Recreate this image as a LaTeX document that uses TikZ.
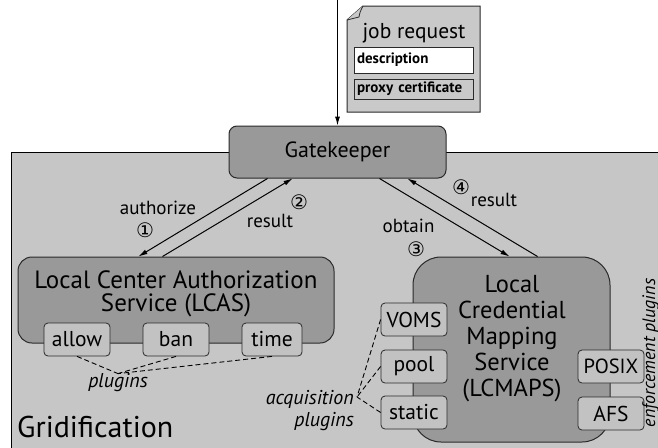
\documentclass[tikz,border=0pt]{standalone}
\usepackage{fontspec}
\setmainfont{PT Sans}
\newfontfamily\symfont{DejaVu Sans}
\usetikzlibrary{arrows.meta,calc}
\definecolor{bgregion}{HTML}{C6C6C6}
\definecolor{bigfill}{HTML}{999999}
\definecolor{plugfill}{HTML}{C2C2C2}
\definecolor{docfill}{HTML}{C9C9C9}
\definecolor{edge}{HTML}{2A2A2A}
\begin{document}
\begin{tikzpicture}[x=1pt,y=-1pt,
  bigbox/.style={draw=edge, line width=1pt, fill=bigfill, inner sep=0pt},
  plugbox/.style={draw=edge, line width=0.8pt, fill=plugfill, rounded corners=4pt, minimum height=33pt, inner sep=0pt, font=\fontsize{21.5}{24}\selectfont},
  lbl/.style={inner sep=0pt, font=\fontsize{19}{22}\selectfont},
  num/.style={inner sep=0pt, font=\symfont\fontsize{20}{22}\selectfont},
  ital/.style={inner sep=0pt, font=\itshape\fontsize{20}{23}\selectfont},
  arr/.style={-{Latex[length=9pt,width=5pt]}, line width=1pt},
  dsh/.style={dash pattern=on 5pt off 3pt, line width=0.9pt}
]
\clip (0,0) rectangle (658,447);
\fill[white] (0,0) rectangle (658,447);

% gridification region
\draw[fill=bgregion, line width=0.9pt] (11,460) -- (11,152) -- (670,152) -- (670,460);
\node[inner sep=0pt, anchor=base west, font=\fontsize{30}{34}\selectfont] (grid) at (17,437) {Gridification};

% job request document
\draw[fill=docfill, draw=edge, line width=1pt] (363,6) -- (480,6) -- (480,112) -- (347,112) -- (347,20) -- cycle;
\draw[fill=docfill, draw=edge, line width=0.8pt] (363,6) .. controls (360,12) .. (359,17) -- (347,20);
\node[inner sep=0pt, font=\fontsize{21.5}{24}\selectfont] (jobreq) at (414,33) {job request};
\node[draw=edge, line width=0.8pt, fill=white, text width=113pt, align=left, minimum height=26pt, inner xsep=3pt, inner ysep=0pt, font=\bfseries\fontsize{15}{17}\selectfont] (desc) at (413.5,60) {description};
\node[draw=edge, line width=0.8pt, fill=docfill, text width=113pt, align=left, minimum height=20pt, inner xsep=3pt, inner ysep=0pt, font=\bfseries\fontsize{15}{17}\selectfont] (proxy) at (413.5,89) {proxy certificate};

% main boxes
\node[bigbox, rounded corners=8pt, minimum width=217pt, minimum height=52pt, font=\fontsize{22}{26}\selectfont] (gk) at (337.5,152) {Gatekeeper};
\node[bigbox, rounded corners=14pt, minimum width=316pt, minimum height=86pt] (lcas) at (176,300) {};
\node[inner sep=0pt, align=center, font=\fontsize{25}{23}\selectfont] (lcastext) at (176,294) {Local Center Authorization\\Service (LCAS)};
\node[bigbox, rounded corners=28pt, minimum width=197pt, minimum height=185pt] (lcmaps) at (511.5,349.5) {};
\node[inner sep=0pt, align=center, font=\fontsize{24.5}{26}\selectfont] (lcmapstext) at (512,339) {Local\\Credential\\Mapping\\Service\\(LCMAPS)};

% plugin boxes
\node[plugbox, minimum width=66pt] (allow) at (77,339.5) {allow};
\node[plugbox, minimum width=66pt] (ban) at (176,339.5) {ban};
\node[plugbox, minimum width=60pt] (time) at (272,339.5) {time};
\node[plugbox, minimum width=66pt] (voms) at (414,319.5) {VOMS};
\node[plugbox, minimum width=66pt] (pool) at (414,366.5) {pool};
\node[plugbox, minimum width=66pt] (static) at (414,412.5) {static};
\node[plugbox, minimum width=66pt, font=\fontsize{20.5}{24}\selectfont] (posix) at (611,366.5) {POSIX};
\node[plugbox, minimum width=66pt] (afs) at (611,413.5) {AFS};

% plugin labels
\node[ital] (plugins) at (118,383) {plugins};
\node[ital, align=right, anchor=east, font=\itshape\fontsize{20}{22}\selectfont] (acq) at (354,411) {acquisition\\plugins};
\node[ital, rotate=90, anchor=base, font=\itshape\fontsize{18}{20}\selectfont] (enf) at (655,353) {enforcement plugins};
\coordinate (acqpt) at (357,397);

\draw[dsh] (allow.south) -- (plugins.north);
\draw[dsh] (ban.south) -- (plugins.north);
\draw[dsh] (time.south) -- (plugins.north);
\draw[dsh] (voms.west) -- (acqpt);
\draw[dsh] (pool.west) -- (acqpt);
\draw[dsh] (static.west) -- (acqpt);

% arrows
\coordinate (topin) at (337.5,0);
\draw[arr] (topin) -- (gk.north);
\draw[arr] ($(gk.south west)+(39,0)$) -- ($(lcas.north west)+(121,0)$);
\draw[arr] ($(lcas.north west)+(145,0)$) -- ($(gk.south west)+(64,0)$);
\draw[arr] ($(gk.south west)+(151,0)$) -- ($(lcmaps.north west)+(97,0)$);
\draw[arr] ($(lcmaps.north west)+(125,0)$) -- ($(gk.south west)+(179,0)$);

% arrow labels
\node[lbl] (authlbl) at (158,208) {authorize};
\node[num] (n1) at (145,230) {①};
\node[num] (n2) at (299,202.5) {②};
\node[lbl] (res1) at (270,221) {result};
\node[lbl] (obtlbl) at (408.5,226) {obtain};
\node[num] (n3) at (416,249) {③};
\node[num] (n4) at (461,187) {④};
\node[lbl] (res2) at (494,200) {result};
\end{tikzpicture}
\end{document}
